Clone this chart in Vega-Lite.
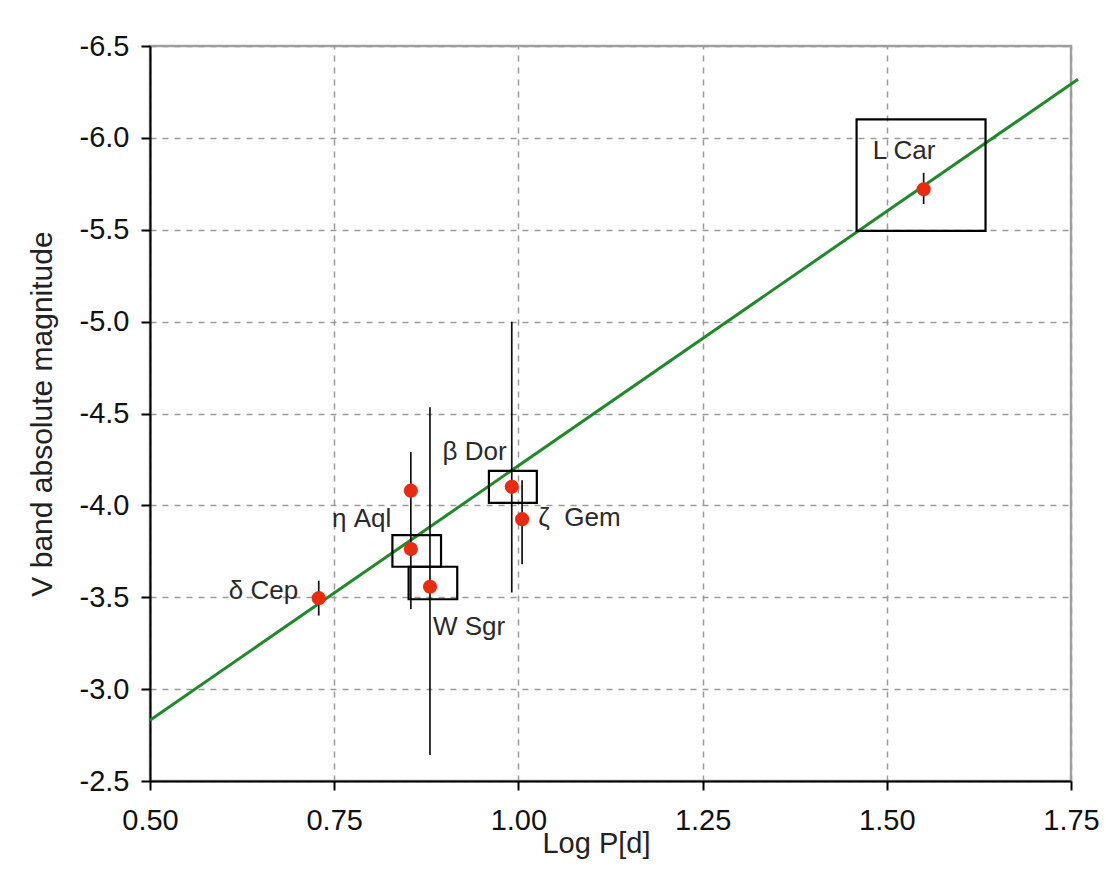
{
  "$schema": "https://vega.github.io/schema/vega-lite/v6.json",
  "autosize": "none",
  "width": 921,
  "height": 735,
  "padding": {"left": 150, "top": 46, "right": 35, "bottom": 110},
  "background": "white",
  "datasets": {
    "stars": [
      {"star": "δ Cep", "logP": 0.729, "M": -3.495, "Mlo": -3.59, "Mhi": -3.40},
      {"star": "η Aql", "logP": 0.854, "M": -4.08, "Mlo": -4.29, "Mhi": -3.435},
      {"star": "η Aql (boxed)", "logP": 0.854, "M": -3.762, "Mlo": null, "Mhi": null},
      {"star": "W Sgr", "logP": 0.880, "M": -3.557, "Mlo": -4.534, "Mhi": -2.641},
      {"star": "β Dor", "logP": 0.991, "M": -4.101, "Mlo": -5.0, "Mhi": -3.526},
      {"star": "ζ Gem", "logP": 1.005, "M": -3.925, "Mlo": -4.137, "Mhi": -3.68},
      {"star": "L Car", "logP": 1.550, "M": -5.72, "Mlo": -5.81, "Mhi": -5.64}
    ],
    "boxes": [
      {"star": "η Aql", "logP": 0.829, "logP2": 0.895, "M": -3.838, "M2": -3.666},
      {"star": "W Sgr", "logP": 0.851, "logP2": 0.917, "M": -3.666, "M2": -3.489},
      {"star": "β Dor", "logP": 0.960, "logP2": 1.025, "M": -4.188, "M2": -4.014},
      {"star": "L Car", "logP": 1.459, "logP2": 1.634, "M": -6.101, "M2": -5.494}
    ],
    "fit": [
      {"logP": 0.5, "M": -2.831},
      {"logP": 1.7595, "M": -6.319}
    ],
    "labels": [
      {"label": "L Car", "logP": 1.481, "M": -5.927},
      {"label": "β Dor", "logP": 0.897, "M": -4.289},
      {"label": "η Aql", "logP": 0.747, "M": -3.925},
      {"label": "ζ\u00a0 Gem", "logP": 1.027, "M": -3.93},
      {"label": "W Sgr", "logP": 0.884, "M": -3.337},
      {"label": "δ Cep", "logP": 0.607, "M": -3.533}
    ]
  },
  "encoding": {
    "x": {
      "field": "logP",
      "type": "quantitative",
      "title": "Log P[d]",
      "scale": {"domain": [0.5, 1.75], "nice": false, "zero": false},
      "axis": {
        "values": [0.5, 0.75, 1.0, 1.25, 1.5, 1.75],
        "labelExpr": "format(datum.value, '.2f')"
      }
    },
    "y": {
      "field": "M",
      "type": "quantitative",
      "title": "V band absolute magnitude",
      "scale": {"domain": [-6.5, -2.5], "nice": false, "zero": false, "reverse": true},
      "axis": {
        "values": [-6.5, -6.0, -5.5, -5.0, -4.5, -4.0, -3.5, -3.0, -2.5],
        "labelExpr": "replace(format(datum.value, '.1f'), '\u2212', '-')"
      }
    }
  },
  "layer": [
    {
      "data": {"name": "fit"},
      "mark": {"type": "line", "color": "#1f8a2a", "strokeWidth": 3, "clip": false}
    },
    {
      "data": {"name": "stars"},
      "transform": [{"filter": "isValid(datum.Mlo)"}],
      "mark": {"type": "rule", "color": "#111111", "strokeWidth": 1.7},
      "encoding": {
        "y": {
          "field": "Mlo",
          "type": "quantitative",
          "title": "V band absolute magnitude",
          "scale": {"domain": [-6.5, -2.5], "nice": false, "zero": false, "reverse": true}
        },
        "y2": {"field": "Mhi"}
      }
    },
    {
      "data": {"name": "boxes"},
      "mark": {"type": "rect", "fill": null, "fillOpacity": 0, "stroke": "#000000", "strokeWidth": 2.2},
      "encoding": {
        "x2": {"field": "logP2"},
        "y2": {"field": "M2"}
      }
    },
    {
      "data": {"name": "stars"},
      "mark": {"type": "circle", "color": "#ec2a0e", "opacity": 1, "size": 200}
    },
    {
      "data": {"name": "labels"},
      "mark": {"type": "text", "align": "left", "baseline": "middle", "font": "Liberation Sans", "fontSize": 26, "color": "#2a2a2a"},
      "encoding": {"text": {"field": "label"}}
    }
  ],
  "config": {
    "view": {"stroke": "#a0a0a0", "strokeWidth": 2.5},
    "axis": {
      "labelFont": "Liberation Sans",
      "titleFont": "Liberation Sans",
      "labelFontSize": 29,
      "labelColor": "#111111",
      "titleColor": "#222222",
      "titleFontWeight": "normal",
      "labelFlush": false,
      "labelOverlap": false,
      "domainColor": "#000000",
      "domainWidth": 2,
      "tickColor": "#000000",
      "tickWidth": 2,
      "tickSize": 9,
      "grid": true,
      "gridColor": "#9a9a9a",
      "gridDash": [6, 6],
      "gridWidth": 1.5
    },
    "axisX": {"labelPadding": 16, "titleFontSize": 29, "titlePadding": -6, "titleX": 446},
    "axisY": {"labelPadding": 12, "titleFontSize": 30, "titlePadding": 22}
  }
}
